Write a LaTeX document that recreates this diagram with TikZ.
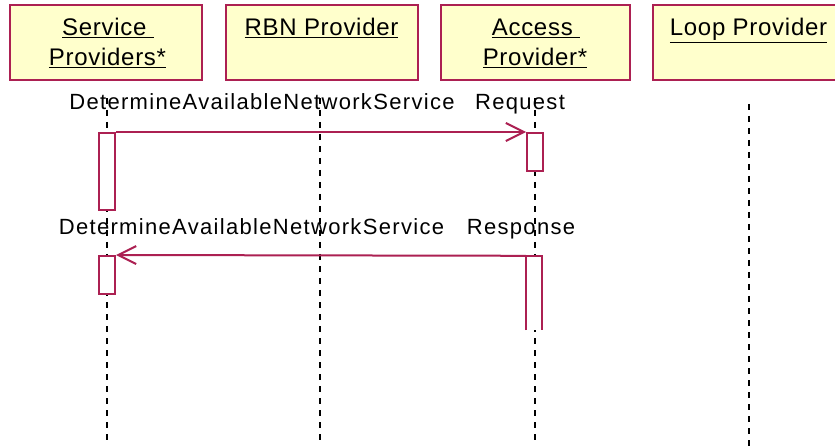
\documentclass[tikz,border=0pt]{standalone}
\usepackage{fontspec}
\setmainfont{Liberation Sans}
\newfontfamily\boxfont[LetterSpace=3]{Liberation Sans}
\newfontfamily\msgfont[LetterSpace=6]{Liberation Sans}
\usetikzlibrary{arrows.meta}
\definecolor{umlred}{RGB}{172,32,82}
\definecolor{umlfill}{RGB}{255,255,204}
\tikzset{
  objbox/.style={draw=umlred, line width=2.2pt, fill=umlfill, minimum width=192pt, minimum height=75pt, inner sep=0pt},
  objtext/.style={anchor=base, inner sep=0pt, font=\boxfont\fontsize{24}{24}\selectfont},
  msgtext/.style={anchor=base, inner sep=0pt, font=\msgfont\fontsize{22}{22}\selectfont},
  lifeline/.style={draw=black, line width=2pt, dash pattern=on 6pt off 6pt},
  actbox/.style={draw=umlred, line width=2pt, fill=white, minimum width=16pt, inner sep=0pt},
  msgline/.style={draw=umlred, line width=2pt, -{Straight Barb[length=18pt,width=18pt,line width=2pt]}},
}
\begin{document}
\begin{tikzpicture}[x=1pt,y=-1pt]
\clip (0,0) rectangle (835,446);
\fill[white] (0,0) rectangle (835,446);
% object boxes
\node[objbox] (sp) at (106,42.5) {};
\node[objbox] (rbn) at (322,42.5) {};
\node[objbox, minimum width=189pt] (ap) at (535.5,42.5) {};
\node[objbox] (lp) at (749,42.5) {};
\node[objtext] (sp1) at (108,36) {\underline{Service\ }};
\node[objtext] (sp2) at (107.5,66) {\underline{Providers*}};
\node[objtext] (rbn1) at (321.5,36) {\underline{RBN Provider}};
\node[objtext] (ap1) at (536,36) {\underline{Access\ }};
\node[objtext] (ap2) at (535,66) {\underline{Provider*}};
\node[objtext] (lp1) at (748.5,36) {\underline{Loop Provider}};
% lifelines
\coordinate (spT) at (106.5,98);  \coordinate (spB) at (106.5,446);
\coordinate (rbnT) at (320,98);   \coordinate (rbnB) at (320,446);
\coordinate (apT) at (535,98);    \coordinate (apB) at (535,446);
\coordinate (lpT) at (748.5,104); \coordinate (lpB) at (748.5,446);
\draw[lifeline] (spT) -- (spB);
\draw[lifeline] (rbnT) -- (rbnB);
\draw[lifeline] (apT) -- (apB);
\draw[lifeline] (lpT) -- (lpB);
% activation boxes
\node[actbox, minimum height=77pt] (sa1) at (107,171.5) {};
\node[actbox, minimum height=38pt] (aa1) at (535,152) {};
\node[actbox, minimum height=38pt] (sa2) at (107,275) {};
\node[fill=white, minimum width=16pt, minimum height=74pt, inner sep=0pt] (aa2) at (534,293) {};
\draw[umlred, line width=2pt] (aa2.south west) -- (aa2.north west) -- (aa2.north east) -- (aa2.south east);
% message labels
\node[msgtext] (m1) at (262,110) {DetermineAvailableNetworkService};
\node[msgtext] (m1b) at (520,110) {Request};
\node[msgtext] (m2) at (251.5,235) {DetermineAvailableNetworkService};
\node[msgtext] (m2b) at (521,235) {Response};
% messages
\draw[msgline] (sa1.north east) -- (aa1.north west);
\draw[msgline] (aa2.north west) -- (sa2.north east);
\end{tikzpicture}
\end{document}
